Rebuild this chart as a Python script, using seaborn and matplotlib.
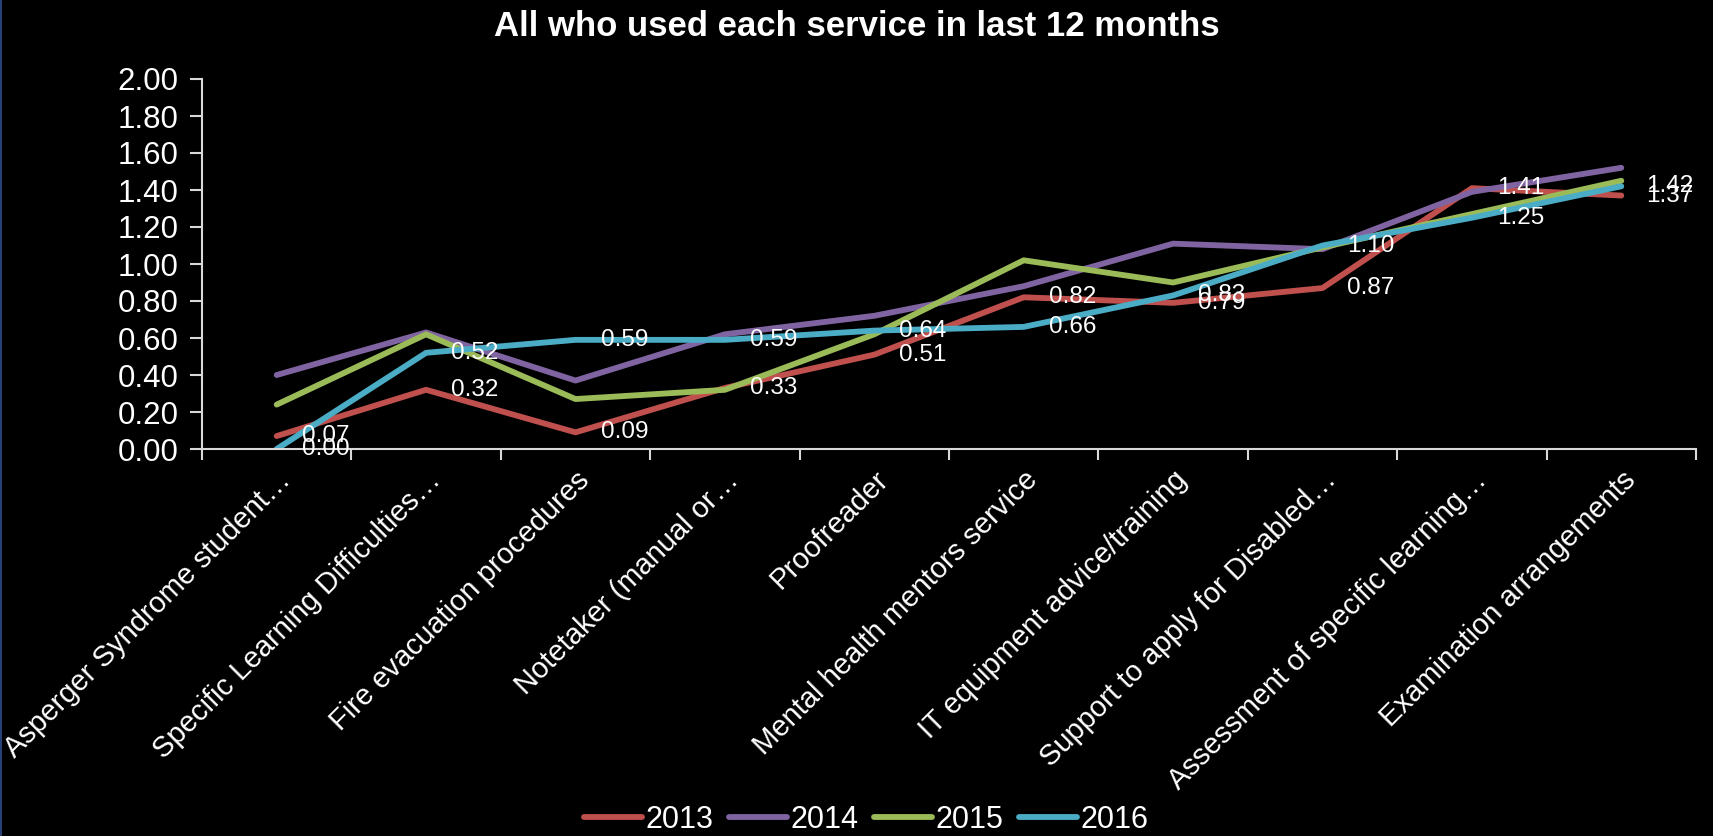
import matplotlib
matplotlib.use("Agg")
import matplotlib.pyplot as plt
from matplotlib.lines import Line2D
from matplotlib.ticker import FixedLocator, FuncFormatter
import numpy as np
import pandas as pd
import seaborn as sns

categories = [
    "Asperger Syndrome student…",
    "Specific Learning Difficulties…",
    "Fire evacuation procedures",
    "Notetaker (manual or…",
    "Proofreader",
    "Mental health mentors service",
    "IT equipment advice/training",
    "Support to apply for Disabled…",
    "Assessment of specific learning…",
    "Examination arrangements",
]
years = ["2013", "2014", "2015", "2016"]
v2013 = [0.07, 0.32, 0.09, 0.33, 0.51, 0.82, 0.79, 0.87, 1.41, 1.37]
v2014 = [0.40, 0.63, 0.37, 0.62, 0.72, 0.88, 1.11, 1.08, 1.39, 1.52]
v2015 = [0.24, 0.62, 0.27, 0.32, 0.62, 1.02, 0.90, 1.09, 1.27, 1.45]
v2016 = [0.00, 0.52, 0.59, 0.59, 0.64, 0.66, 0.83, 1.10, 1.25, 1.42]
colors = ["#C0504D", "#8064A2", "#9BBB59", "#4BACC6"]
labelled_years = ["2013", "2016"]
title = "All who used each service in last 12 months"

series = dict(zip(years, [v2013, v2014, v2015, v2016]))
df = pd.DataFrame(
    [(c, y, v) for y in years for c, v in zip(categories, series[y])],
    columns=["service", "year", "value"],
)

sns.set_style("dark")
plt.rcParams["font.family"] = ["Liberation Sans", "DejaVu Sans"]
W, H, DPI = 1713, 836, 100
fig = plt.figure(figsize=(W / DPI, H / DPI), dpi=DPI, facecolor="black")
ax = fig.add_axes([202 / W, 1 - 449 / H, (1696 - 202) / W, (449 - 79) / H])
ax.set_facecolor("black")

LW = 4.2
sns.lineplot(data=df, x="service", y="value", hue="year", sort=False,
             palette=dict(zip(years, colors)), linewidth=LW, ax=ax,
             legend=False)
for l in ax.lines:
    l.set_solid_capstyle("round")
    l.set_solid_joinstyle("round")

# data labels
for y in labelled_years:
    for i, v in enumerate(series[y]):
        ax.annotate(f"{v:.2f}", (i, v), xytext=(18, 0), textcoords="offset points",
                    ha="left", va="center", color="white", fontsize=17.5)

ax.set_xlim(-0.5, len(categories) - 0.5)
ax.set_ylim(0, 2.0)
ax.set_yticks(np.arange(0, 2.001, 0.2))
ax.yaxis.set_major_formatter(FuncFormatter(lambda v, p: f"{v:.2f}"))
ax.set_xticks(range(len(categories)))
ax.set_xticklabels(categories, rotation=45, ha="right", va="top",
                   rotation_mode="anchor")
ax.xaxis.set_minor_locator(FixedLocator(np.arange(-0.5, len(categories), 1.0)))
ax.tick_params(axis="x", which="major", length=0, pad=12, labelsize=21, colors="white")
ax.tick_params(axis="x", which="minor", length=8, width=1.5, color="#D9D9D9", direction="out", bottom=True)
ax.tick_params(axis="y", length=9, width=1.5, color="#D9D9D9", direction="out",
               labelsize=22.5, labelcolor="white", pad=8, left=True)
ax.set_xlabel("")
ax.set_ylabel("")
ax.grid(False)
for s in ["top", "right"]:
    ax.spines[s].set_visible(False)
for s in ["left", "bottom"]:
    ax.spines[s].set_color("#D9D9D9")
    ax.spines[s].set_linewidth(1.5)

fig.text(0.5, 1 - 26 / H, title, ha="center", va="center", color="white",
         fontsize=25, fontweight="bold")

handles = [Line2D([0], [0], color=c, lw=LW, solid_capstyle="round") for c in colors]
fig.legend(handles, years, loc="center", bbox_to_anchor=(866 / W, 1 - 820 / H),
           ncol=4, frameon=False, fontsize=22, labelcolor="white",
           handlelength=1.9, handletextpad=0.12, columnspacing=0.5,
           borderaxespad=0, borderpad=0)

fig.add_artist(Line2D([0.6 / W, 0.6 / W], [0, 1], color="#2F4F8F", lw=1.2,
                      transform=fig.transFigure))

fig.savefig("out.png", dpi=DPI, facecolor="black")
